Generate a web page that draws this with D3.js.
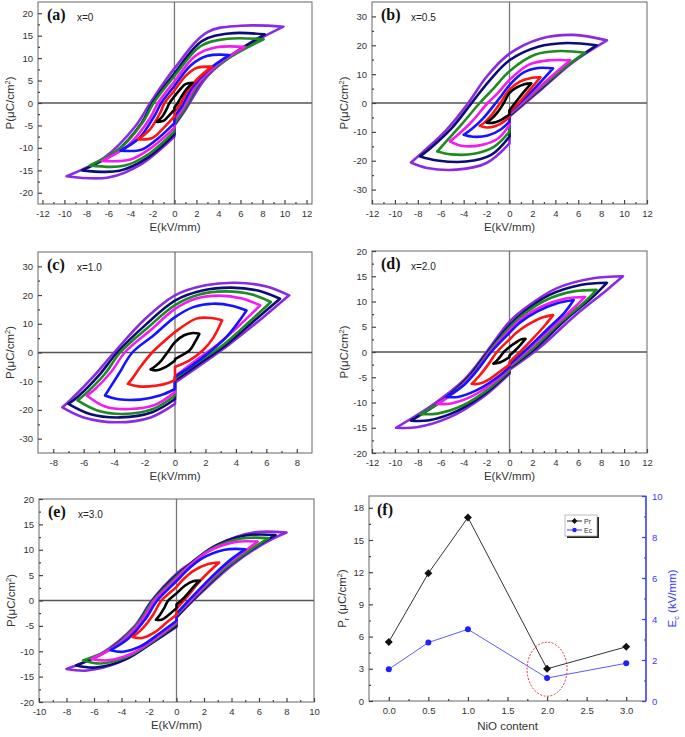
<!DOCTYPE html>
<html><head><meta charset="utf-8">
<script src="https://cdn.jsdelivr.net/npm/d3@7"></script>
<style>
body{margin:0;background:#fff}
svg{display:block}
text{font-family:"Liberation Sans",Arial,sans-serif}
</style>
</head><body>
<svg id="chart" width="685" height="737"></svg>
<script>
// ---------- DATA ----------
// loop colours, outermost (largest field) to innermost
const loopColors = ["#8a2be2", "#0c0c78", "#1f8a1f", "#f21cf2", "#1414ff", "#ff1414", "#000000"];

// each loop: [upper branch (right tip -> left tip), lower-left branch (left tip -> E=0), lower-right branch (E=0 -> right tip)]
const loopsA = [
 [[[9.9,17],[6,17.2],[3,15.8],[0,7.7],[-2.2,0],[-3.5,-5],[-6.4,-12.2],[-9.8,-16.3]], [[-9.8,-16.3],[-6,-16.6],[-3,-13.6],[0,-7.5]], [[0,-5],[1,-1.5],[3,6],[6,11.8],[9.9,17]]],
 [[[8.2,15.3],[5,15.5],[2.5,13.8],[0,6.6],[-2,0],[-3,-4.5],[-5.4,-11],[-8.4,-15]], [[-8.4,-15],[-5,-15.1],[-2.5,-12.3],[0,-7]], [[0,-4.8],[0.9,-1.5],[2.5,5.2],[5,10.4],[8.2,15.3]]],
 [[[8.1,14.2],[4.8,14.3],[2.4,12.7],[0,6],[-1.9,0],[-2.8,-4],[-5,-10.2],[-7.7,-13.9]], [[-7.7,-13.9],[-4.6,-14],[-2.3,-11.3],[0,-6.3]], [[0,-4.6],[0.9,-1.4],[2.4,5],[4.8,9.8],[8.1,14.2]]],
 [[[6.4,12.5],[3.8,12.4],[1.9,10.5],[0,4.8],[-1.5,0],[-2.2,-3.3],[-4.2,-9.4],[-6.6,-12.9]], [[-6.6,-12.9],[-4,-12.6],[-2,-9.8],[0,-5.5]], [[0,-3.8],[0.8,-1],[2,4],[3.9,8.6],[6.4,12.5]]],
 [[[5,10.7],[3,10.5],[1.5,8.4],[0,3.8],[-1.2,0],[-1.8,-2.8],[-3.2,-7.8],[-4.9,-10.6]], [[-4.9,-10.6],[-3,-10.4],[-1.5,-7.9],[0,-4.5]], [[0,-3],[0.7,-0.6],[1.6,3.4],[3,7.2],[5,10.7]]],
 [[[3.4,8.1],[2,7.8],[1,6],[0,2.8],[-0.9,0],[-1.3,-2.2],[-2.2,-5.8],[-3.3,-8.1]], [[-3.3,-8.1],[-2,-7.8],[-1,-5.6],[0,-3]], [[0,-2],[0.5,-0.4],[1.1,2.4],[2.1,5.4],[3.4,8.1]]],
 [[[1.65,4.5],[1,4.2],[0.5,3],[0,1.5],[-0.45,0],[-0.7,-1.3],[-1.1,-3],[-1.6,-4.2]], [[-1.6,-4.2],[-1,-4],[-0.5,-2.8],[0,-1.5]], [[0,-1],[0.3,0],[0.6,1.3],[1,2.8],[1.65,4.5]]]
];

const loopsB = [
 [[[8.5,21.7],[5.6,23.6],[2.7,22.3],[0,17.1],[-2,9.1],[-3.6,0],[-5.5,-9.3],[-7.5,-16.8],[-8.6,-20.6]], [[-8.6,-20.6],[-7.2,-22.5],[-4.6,-23.1],[-2,-20.8],[0,-14]], [[0,-4.7],[2.8,4.8],[5.6,14.3],[8.5,21.7]]],
 [[[7.6,20],[5,20.8],[2.5,19.5],[0,14.8],[-1.8,7.5],[-3.3,0],[-5,-8.5],[-6.8,-15.3],[-7.8,-18.5]], [[-7.8,-18.5],[-6.3,-19.9],[-3.8,-20.3],[-1.6,-18],[0,-11.6]], [[0,-4.3],[2.5,4.2],[5,12.8],[7.6,20]]],
 [[[6.6,17.4],[4.4,18],[2.2,16.7],[0,11],[-1.4,5],[-2.6,0],[-4.2,-7.5],[-5.5,-13.2],[-6.3,-16.8]], [[-6.3,-16.8],[-5.1,-17.8],[-3.1,-17.6],[-1.3,-15],[0,-9.9]], [[0,-4],[2.2,3.5],[4.4,11],[6.6,17.4]]],
 [[[5.3,14.8],[3.5,14.8],[1.7,13.3],[0,8],[-1,3.5],[-1.9,0],[-3.3,-6.5],[-4.5,-11],[-5.2,-13.3]], [[-5.2,-13.3],[-4.2,-14.8],[-2.5,-14.6],[-1,-12.3],[0,-7.6]], [[0,-3.7],[1.8,2.6],[3.6,9],[5.3,14.8]]],
 [[[3.8,12],[2.5,12.1],[1.2,10.5],[0,6.2],[-0.7,2.5],[-1.2,0],[-2.3,-5.3],[-3.3,-9],[-4,-11]], [[-4,-11],[-3.2,-11.7],[-1.9,-11.3],[-0.7,-9],[0,-6.4]], [[0,-3.3],[1.3,1.5],[2.6,6.8],[3.8,12]]],
 [[[2.7,8.9],[1.8,8.6],[0.9,7.4],[0,4.6],[-0.8,0],[-1.5,-3.8],[-2.2,-6.8],[-2.6,-7.9]], [[-2.6,-7.9],[-2,-8.5],[-1.2,-8],[-0.4,-6.2],[0,-4.7]], [[0,-3],[0.9,0.5],[1.8,4.7],[2.7,8.9]]],
 [[[1.9,6.8],[1.3,6.5],[0.6,5.3],[0,3.5],[-0.5,0],[-1,-3],[-1.6,-5.6],[-2,-6.8]], [[-2,-6.8],[-1.5,-6.9],[-0.9,-6.2],[-0.3,-4.8],[0,-4]], [[0,-2.5],[0.6,0.6],[1.2,3.6],[1.9,6.8]]]
];

const loopsC = [
 [[[7.5,19.9],[6,23],[4,24.3],[2,23.4],[0,19.9],[-2,11.5],[-4,0],[-5.4,-8.6],[-6.9,-16.7],[-7.4,-19.1]], [[-7.4,-19.1],[-6,-22.6],[-3.8,-24.3],[-1.6,-22.6],[0,-17.9]], [[0,-10.5],[1.8,-3.9],[3.6,3],[5.8,12.3],[7.5,19.9]]],
 [[[6.9,18.7],[5.5,21.5],[3.7,22.6],[1.8,21.6],[0,18.1],[-1.9,9.8],[-3.8,0],[-5,-8],[-6.4,-15.5],[-7,-17.9]], [[-7,-17.9],[-5.6,-21.4],[-3.6,-22.6],[-1.5,-20.8],[0,-16.2]], [[0,-9.7],[1.7,-3.5],[3.4,2.8],[5.3,11.5],[6.9,18.7]]],
 [[[6.3,17.6],[5,20.3],[3.3,21.3],[1.6,20.2],[0,16.5],[-1.8,8.6],[-3.6,0],[-4.6,-7.4],[-5.9,-14.5],[-6.4,-16.7]], [[-6.4,-16.7],[-5.1,-20.2],[-3.4,-21.4],[-1.4,-19.6],[0,-15]], [[0,-9],[1.6,-3],[3.2,2.8],[4.9,10.8],[6.3,17.6]]],
 [[[5.6,16.4],[4.4,18.8],[2.9,19.8],[1.4,18.8],[0,15.2],[-1.6,7.8],[-3.3,0],[-4.2,-6.8],[-5.3,-13],[-5.8,-15]], [[-5.8,-15],[-4.6,-18.8],[-3,-19.7],[-1.3,-18.2],[0,-13.8]], [[0,-8.3],[1.4,-2.6],[2.8,2.8],[4.3,9.8],[5.6,16.4]]],
 [[[4.7,14.6],[3.8,16.2],[2.5,17],[1.2,15.8],[0,12.3],[-1.4,6],[-2.8,0],[-3.7,-7.5],[-4.3,-12.5],[-4.6,-15]], [[-4.6,-15],[-3.7,-16.3],[-2.3,-16.4],[-1,-15],[0,-12.7]], [[0,-8.4],[1,-5],[2,-1],[3.4,5.5],[4.7,14.6]]],
 [[[3.1,11.2],[2.4,12],[1.4,11.8],[0,7.1],[-0.8,3.5],[-1.5,0],[-2.3,-5.2],[-2.8,-9],[-3.1,-10.9]], [[-3.1,-10.9],[-2.4,-11.8],[-1.3,-11.6],[-0.4,-10.5],[0,-9.5]], [[0,-5],[0.9,-2.9],[1.8,0.6],[2.5,5],[3.1,11.2]]],
 [[[1.6,6.5],[1.2,6.8],[0.6,6],[0,3.6],[-0.5,0],[-0.9,-2.8],[-1.3,-4.8],[-1.6,-5.9]], [[-1.6,-5.9],[-1.2,-6.2],[-0.6,-5],[0,-2.8]], [[0,-2.3],[0.5,-0.8],[0.95,0.7],[1.3,3.5],[1.6,6.5]]]
];

const loopsD = [
 [[[9.9,15],[7.3,14.6],[4.1,12.6],[1.5,8.9],[0,6],[-2,0],[-4,-5.6],[-6.6,-10.3],[-9.9,-15]], [[-9.9,-15],[-8.1,-14.9],[-5.2,-12.9],[-2.3,-8.9],[0,-4.3]], [[0,-3.5],[2.7,1],[5.6,7],[8.5,12.3],[9.9,15]]],
 [[[8.5,13.7],[6.3,13.3],[3.5,11.3],[1.3,8],[0,5.3],[-1.9,0],[-3.6,-5],[-5.8,-9.5],[-8.6,-13.6]], [[-8.6,-13.6],[-7,-13.5],[-4.5,-11.6],[-2,-8],[0,-4]], [[0,-3.2],[2.3,0.8],[4.8,6.2],[7.3,11],[8.5,13.7]]],
 [[[7.6,12.3],[5.6,12],[3.2,10.3],[1.2,7.4],[0,4.8],[-1.8,0],[-3.3,-4.6],[-5.3,-8.8],[-7.8,-12.3]], [[-7.8,-12.3],[-6.3,-12.2],[-4,-10.5],[-1.8,-7.3],[0,-3.7]], [[0,-3],[2.1,0.8],[4.4,5.8],[6.6,10],[7.6,12.3]]],
 [[[6.6,10.9],[4.9,10.6],[2.8,9],[1,6.5],[0,4.3],[-1.7,0],[-3,-4],[-4.6,-7.6],[-6.3,-10.3]], [[-6.3,-10.3],[-5.1,-10.2],[-3.3,-8.8],[-1.5,-6.2],[0,-3.3]], [[0,-2.7],[1.8,0.8],[3.8,5],[5.7,8.9],[6.6,10.9]]],
 [[[5.6,10.3],[4.1,9.6],[2.4,8],[0.9,5.8],[0,3.8],[-1.6,0],[-2.8,-3.6],[-4.1,-6.8],[-5.5,-8.9]], [[-5.5,-8.9],[-4.5,-8.9],[-2.9,-7.6],[-1.3,-5.4],[0,-3]], [[0,-2.5],[1.6,0.8],[3.3,4.5],[4.8,7.8],[5.6,10.3]]],
 [[[3.8,7.3],[2.8,6.8],[1.6,5.4],[0.6,3.8],[0,2.5],[-1.1,0],[-1.9,-2.6],[-2.7,-4.9],[-3.3,-6.3]], [[-3.3,-6.3],[-2.7,-6.3],[-1.7,-5.3],[-0.8,-3.8],[0,-2.5]], [[0,-2],[1,0.2],[2.1,2.8],[3.1,5.3],[3.8,7.3]]],
 [[[1.4,2.6],[1,2.5],[0.5,1.8],[0,1],[-0.5,0],[-0.8,-0.9],[-1.1,-1.7],[-1.4,-2.3]], [[-1.4,-2.3],[-1,-2.2],[-0.5,-1.7],[0,-1]], [[0,-0.7],[0.4,0.1],[0.8,1],[1.1,1.8],[1.4,2.6]]]
];

const loopsE = [
 [[[8,13.4],[5.6,13.4],[3,11],[1,7.3],[0,5.3],[-1.8,0],[-3.1,-5.2],[-5.5,-10.5],[-8,-13.5]], [[-8,-13.5],[-6.5,-13.8],[-4.1,-12.1],[-1.9,-8.5],[0,-5.2]], [[0,-3.3],[1.75,1.4],[4.2,7.3],[6.6,11.6],[8,13.4]]],
 [[[7.2,12.9],[5,12.8],[2.7,10.6],[0.9,7],[0,5],[-1.75,0],[-2.9,-4.8],[-5,-9.9],[-7.3,-12.8]], [[-7.3,-12.8],[-5.9,-13.2],[-3.7,-11.6],[-1.7,-8.2],[0,-5]], [[0,-3.3],[1.6,1.2],[3.8,6.8],[6,11],[7.2,12.9]]],
 [[[6.7,12.3],[4.7,12.2],[2.5,10.1],[0.8,6.6],[0,4.7],[-1.7,0],[-2.8,-4.5],[-4.7,-9.4],[-6.8,-11.8]], [[-6.8,-11.8],[-5.5,-12.4],[-3.5,-11],[-1.6,-7.8],[0,-4.6]], [[0,-3],[1.5,1.2],[3.6,6.5],[5.6,10.4],[6.7,12.3]]],
 [[[5.9,11.6],[4.2,11.5],[2.2,9.5],[0.7,6.2],[0,4.3],[-1.6,0],[-2.6,-4.2],[-4.3,-8.8],[-6.2,-11.5]], [[-6.2,-11.5],[-5,-11.8],[-3.2,-10.4],[-1.5,-7.4],[0,-4.3]], [[0,-2.8],[1.4,1.1],[3.2,6],[4.9,9.6],[5.9,11.6]]],
 [[[5,10.1],[3.5,10],[1.8,8.2],[0.6,5.5],[0,3.8],[-1.4,0],[-2.3,-3.8],[-3.5,-7.5],[-4.8,-9.8]], [[-4.8,-9.8],[-3.9,-10.1],[-2.6,-9],[-1.2,-6.4],[0,-4]], [[0,-2.6],[1.2,0.9],[2.8,5.3],[4.1,8.4],[5,10.1]]],
 [[[3.1,7.5],[2.3,7.2],[1.2,5.8],[0.4,3.9],[0,2.7],[-1.1,0],[-1.7,-2.8],[-2.5,-5.6],[-3.2,-7.2]], [[-3.2,-7.2],[-2.5,-7.4],[-1.6,-6.3],[-0.7,-4.3],[0,-2.8]], [[0,-1.6],[0.8,0.8],[1.7,3.8],[2.5,6],[3.1,7.5]]],
 [[[1.7,3.9],[1.2,3.8],[0.6,2.9],[0,1.4],[-0.6,0],[-0.9,-1.5],[-1.2,-2.8],[-1.5,-3.8]], [[-1.5,-3.8],[-1.1,-3.8],[-0.6,-2.9],[0,-1.5]], [[0,-0.8],[0.5,0.4],[0.9,1.6],[1.3,2.9],[1.7,3.9]]]
];

// tick values
const ticksA_x = [-12,-10,-8,-6,-4,-2,0,2,4,6,8,10,12];
const ticksA_y = [-20,-15,-10,-5,0,5,10,15,20];
const ticksB_y = [-30,-20,-10,0,10,20,30];
const ticksC_x = [-8,-6,-4,-2,0,2,4,6,8];
const ticksE_x = [-10,-8,-6,-4,-2,0,2,4,6,8,10];

// panel (f)
const nioContent = [0.0, 0.5, 1.0, 2.0, 3.0];
const prValues = [5.5, 11.9, 17.1, 3.0, 5.05];
const ecValues = [1.55, 2.85, 3.5, 1.12, 1.84];
const nioTicks = [0.0, 0.5, 1.0, 1.5, 2.0, 2.5, 3.0];
const prTicks = [0, 3, 6, 9, 12, 15, 18];
const ecTicks = [0, 2, 4, 6, 8, 10];

// ---------- DRAW ----------
const svg = d3.select("#chart");
const TICK_COLOR = "#444", LABEL_COLOR = "#333", BOX_COLOR = "#666";
let clipId = 0;

function minorBetween(vals) {
  const out = [];
  for (let i = 0; i < vals.length - 1; i++) out.push((vals[i] + vals[i+1]) / 2);
  return out;
}

function drawAxes(g, x, y, box, xt, yt, xFmt) {
  const fmt = xFmt || (d => String(d));
  // box
  g.append("rect").attr("x", box.l).attr("y", box.t).attr("width", box.r - box.l).attr("height", box.b - box.t)
    .attr("fill", "none").attr("stroke", BOX_COLOR).attr("stroke-width", 1);
  const ax = g.append("g").attr("transform", `translate(0,${box.b})`)
    .call(d3.axisBottom(x).tickValues(xt).tickSizeInner(-4).tickSizeOuter(0).tickPadding(6).tickFormat(fmt));
  const axm = g.append("g").attr("transform", `translate(0,${box.b})`)
    .call(d3.axisBottom(x).tickValues(minorBetween(xt)).tickSizeInner(-2).tickSizeOuter(0).tickFormat(""));
  const ay = g.append("g").attr("transform", `translate(${box.l},0)`)
    .call(d3.axisLeft(y).tickValues(yt).tickSizeInner(-4).tickSizeOuter(0).tickPadding(5).tickFormat(d => String(d)));
  const aym = g.append("g").attr("transform", `translate(${box.l},0)`)
    .call(d3.axisLeft(y).tickValues(minorBetween(yt)).tickSizeInner(-2).tickSizeOuter(0).tickFormat(""));
  [ax, axm, ay, aym].forEach(a => {
    a.select(".domain").remove();
    a.selectAll("line").attr("stroke", TICK_COLOR).attr("stroke-width", 1.2);
    a.selectAll("text").attr("fill", LABEL_COLOR).style("font-size", "9.5px").style("font-family", '"Liberation Sans", Arial, sans-serif');
  });
  return {ax, ay};
}

function hysteresis(box, xd, yd, xt, yt, label, comp, loops) {
  const g = svg.append("g");
  const x = d3.scaleLinear().domain(xd).range([box.l, box.r]);
  const y = d3.scaleLinear().domain(yd).range([box.b, box.t]);
  const id = "clip" + (clipId++);
  g.append("clipPath").attr("id", id).append("rect")
    .attr("x", box.l).attr("y", box.t).attr("width", box.r - box.l).attr("height", box.b - box.t);
  const plot = g.append("g").attr("clip-path", `url(#${id})`);
  // zero lines
  plot.append("line").attr("x1", box.l).attr("x2", box.r).attr("y1", y(0)).attr("y2", y(0))
    .attr("stroke", "#555").attr("stroke-width", 1.3);
  plot.append("line").attr("x1", x(0)).attr("x2", x(0)).attr("y1", box.t).attr("y2", box.b)
    .attr("stroke", "#777").attr("stroke-width", 1.3);
  const line = d3.line().x(d => x(d[0])).y(d => y(d[1])).curve(d3.curveCatmullRom.alpha(0.5));
  loops.forEach((lp, i) => {
    const [up, lowL, lowR] = lp;
    const d = line(lowR) + line(up).replace(/^M/, "L") + line(lowL).replace(/^M/, "L") + "Z";
    plot.append("path").attr("d", d).attr("fill", "none")
      .attr("stroke", loopColors[i]).attr("stroke-width", 2.6).attr("stroke-linejoin", "round");
  });
  drawAxes(g, x, y, box, xt, yt);
  // titles
  g.append("text").attr("x", (box.l + box.r) / 2).attr("y", box.b + 27).attr("text-anchor", "middle")
    .style("font-size", "11.5px").attr("fill", "#333").text("E(kV/mm)");
  const yl = g.append("text").attr("transform", `translate(${box.l - 24},${(box.t + box.b) / 2}) rotate(-90)`)
    .attr("text-anchor", "middle").style("font-size", "11.5px").attr("fill", "#333");
  yl.append("tspan").text("P(μC/cm");
  yl.append("tspan").attr("dy", -4).style("font-size", "7.5px").text("2");
  yl.append("tspan").attr("dy", 4).text(")");
  g.append("text").attr("x", box.l + 9).attr("y", box.t + 18)
    .style("font-family", '"Liberation Serif", "Times New Roman", serif').style("font-weight", "bold")
    .style("font-size", "16px").attr("fill", "#111").text(label);
  g.append("text").attr("x", box.l + 39).attr("y", box.t + 19)
    .style("font-size", "10px").attr("fill", "#222").text(comp);
}

hysteresis({l:38, r:312, t:2, b:204}, [-12.4, 12.5], [-22.5, 22.5], ticksA_x, ticksA_y, "(a)", "x=0", loopsA);
hysteresis({l:372, r:647, t:2, b:204}, [-12, 12], [-35, 35], ticksA_x, ticksB_y, "(b)", "x=0.5", loopsB);
hysteresis({l:38, r:312, t:252, b:453}, [-9, 9], [-35, 35], ticksC_x, ticksB_y, "(c)", "x=1.0", loopsC);
hysteresis({l:372, r:647, t:251, b:453}, [-12, 12], [-20, 20], ticksA_x, ticksA_y, "(d)", "x=2.0", loopsD);
hysteresis({l:39, r:314, t:499, b:702}, [-10, 10], [-20, 20], ticksE_x, ticksA_y, "(e)", "x=3.0", loopsE);

// ---------- panel (f) ----------
(function () {
  const box = {l:369, r:646, t:496, b:701};
  const g = svg.append("g");
  const x = d3.scaleLinear().domain([-0.25, 3.25]).range([box.l, box.r]);
  const yL = d3.scaleLinear().domain([0, 19.1]).range([box.b, box.t]);
  const yR = d3.scaleLinear().domain([0, 10]).range([box.b, box.t]);
  const BLUE = "#3a3aff";

  // dashed ellipse
  g.append("ellipse").attr("cx", x(2.0)).attr("cy", yR(1.55)).attr("rx", 20).attr("ry", 27)
    .attr("fill", "none").attr("stroke", "#e83030").attr("stroke-width", 1).attr("stroke-dasharray", "2,1.5");

  const lnP = d3.line().x((d, i) => x(nioContent[i])).y(d => yL(d));
  const lnE = d3.line().x((d, i) => x(nioContent[i])).y(d => yR(d));
  g.append("path").attr("d", lnP(prValues)).attr("fill", "none").attr("stroke", "#333").attr("stroke-width", 1);
  g.append("path").attr("d", lnE(ecValues)).attr("fill", "none").attr("stroke", "#5b5bff").attr("stroke-width", 1);
  const diamond = d3.symbol().type(d3.symbolDiamond2).size(40);
  g.selectAll(".pr").data(prValues).join("path")
    .attr("transform", (d, i) => `translate(${x(nioContent[i])},${yL(d)})`)
    .attr("d", diamond).attr("fill", "#111");
  g.selectAll(".ec").data(ecValues).join("circle")
    .attr("cx", (d, i) => x(nioContent[i])).attr("cy", d => yR(d)).attr("r", 3).attr("fill", "#2020ff");

  // box & axes
  g.append("rect").attr("x", box.l).attr("y", box.t).attr("width", box.r - box.l).attr("height", box.b - box.t)
    .attr("fill", "none").attr("stroke", BOX_COLOR).attr("stroke-width", 1);
  const axes = [
    g.append("g").attr("transform", `translate(0,${box.b})`)
      .call(d3.axisBottom(x).tickValues(nioTicks).tickSizeInner(-4).tickSizeOuter(0).tickPadding(6).tickFormat(d3.format(".1f"))),
    g.append("g").attr("transform", `translate(0,${box.b})`)
      .call(d3.axisBottom(x).tickValues(minorBetween(nioTicks)).tickSizeInner(-2).tickSizeOuter(0).tickFormat("")),
    g.append("g").attr("transform", `translate(${box.l},0)`)
      .call(d3.axisLeft(yL).tickValues(prTicks).tickSizeInner(-4).tickSizeOuter(0).tickPadding(5)),
    g.append("g").attr("transform", `translate(${box.l},0)`)
      .call(d3.axisLeft(yL).tickValues(minorBetween(prTicks)).tickSizeInner(-2).tickSizeOuter(0).tickFormat(""))
  ];
  axes.forEach(a => {
    a.select(".domain").remove();
    a.selectAll("line").attr("stroke", TICK_COLOR).attr("stroke-width", 1.2);
    a.selectAll("text").attr("fill", LABEL_COLOR).style("font-size", "9.5px");
  });
  const rAx = [
    g.append("g").attr("transform", `translate(${box.r},0)`)
      .call(d3.axisRight(yR).tickValues(ecTicks).tickSizeInner(-4).tickSizeOuter(0).tickPadding(6)),
    g.append("g").attr("transform", `translate(${box.r},0)`)
      .call(d3.axisRight(yR).tickValues(minorBetween(ecTicks)).tickSizeInner(-2).tickSizeOuter(0).tickFormat(""))
  ];
  rAx.forEach(a => {
    a.select(".domain").remove();
    a.selectAll("line").attr("stroke", BLUE).attr("stroke-width", 1.2);
    a.selectAll("text").attr("fill", BLUE).style("font-size", "9.5px");
  });
  g.append("line").attr("x1", box.r).attr("x2", box.r).attr("y1", box.t).attr("y2", box.b)
    .attr("stroke", BLUE).attr("stroke-width", 1.3);

  // titles
  g.append("text").attr("x", (box.l + box.r) / 2).attr("y", box.b + 29).attr("text-anchor", "middle")
    .style("font-size", "11.5px").attr("fill", "#333").text("NiO content");
  const lt = g.append("text").attr("transform", `translate(${box.l - 23},${(box.t + box.b) / 2}) rotate(-90)`)
    .attr("text-anchor", "middle").style("font-size", "11.5px").attr("fill", "#333");
  lt.append("tspan").text("P");
  lt.append("tspan").attr("dy", 3).style("font-size", "7.5px").text("r");
  lt.append("tspan").attr("dy", -3).text(" (μC/cm");
  lt.append("tspan").attr("dy", -4).style("font-size", "7.5px").text("2");
  lt.append("tspan").attr("dy", 4).text(")");
  const rt = g.append("text").attr("transform", `translate(${box.r + 30},${(box.t + box.b) / 2}) rotate(-90)`)
    .attr("text-anchor", "middle").style("font-size", "11.5px").attr("fill", BLUE);
  rt.append("tspan").text("E");
  rt.append("tspan").attr("dy", 3).style("font-size", "7.5px").text("c");
  rt.append("tspan").attr("dy", -3).text(" (kV/mm)");

  g.append("text").attr("x", box.l + 8).attr("y", box.t + 19)
    .style("font-family", '"Liberation Serif", "Times New Roman", serif').style("font-weight", "bold")
    .style("font-size", "16px").attr("fill", "#111").text("(f)");

  // legend
  const lg = g.append("g");
  lg.append("rect").attr("x", 567).attr("y", 517).attr("width", 32).attr("height", 21).attr("fill", "#222");
  lg.append("rect").attr("x", 565).attr("y", 515).attr("width", 32).attr("height", 21)
    .attr("fill", "#fff").attr("stroke", "#aaa").attr("stroke-width", 0.8);
  lg.append("line").attr("x1", 567).attr("x2", 582).attr("y1", 521).attr("y2", 521).attr("stroke", "#222").attr("stroke-width", 1);
  lg.append("path").attr("transform", "translate(574.5,521)").attr("d", d3.symbol().type(d3.symbolDiamond2).size(22)).attr("fill", "#111");
  lg.append("text").attr("x", 584).attr("y", 523.5).style("font-size", "7px").attr("fill", "#333").text("Pr");
  lg.append("line").attr("x1", 567).attr("x2", 582).attr("y1", 530).attr("y2", 530).attr("stroke", BLUE).attr("stroke-width", 1);
  lg.append("circle").attr("cx", 574.5).attr("cy", 530).attr("r", 2.2).attr("fill", "#2020ff");
  lg.append("text").attr("x", 584).attr("y", 532.5).style("font-size", "7px").attr("fill", "#333").text("Ec");
})();
</script>
</body></html>
